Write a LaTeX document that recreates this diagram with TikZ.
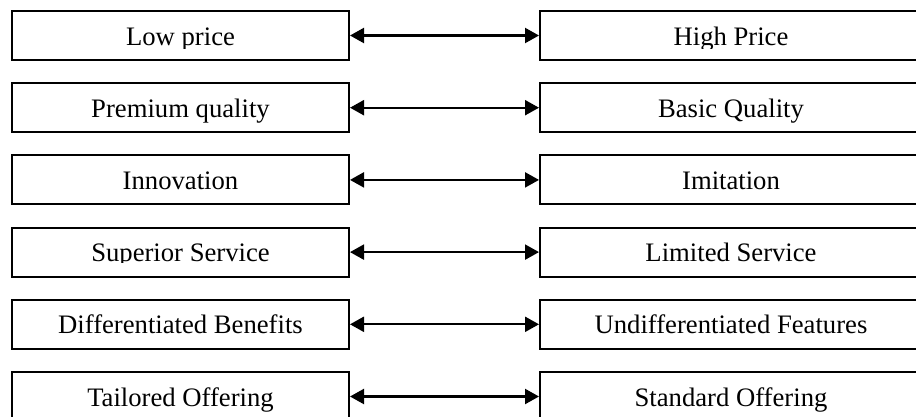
\documentclass[tikz,border=0pt]{standalone}
\usepackage{fontspec}
\setmainfont{Liberation Serif}
\usetikzlibrary{arrows.meta}
\begin{document}
\begin{tikzpicture}[x=1pt,y=-1pt,
  box/.style={draw, line width=2pt, minimum height=49pt, inner sep=0pt},
  leftbox/.style={box, minimum width=337pt},
  rightbox/.style={box, minimum width=400pt},
  caption/.style={font=\fontsize{26.67}{30}\selectfont, inner sep=0pt, anchor=base},
  link/.style={line width=2.2pt,
    {Triangle[length=14pt,width=15pt]}-{Triangle[length=14pt,width=15pt]}}]
\useasboundingbox (0,0) rectangle (916,416);
% each row: index / left text / right text / how far below the baseline the text shows
\foreach \i/\lt/\rt/\cl in {
  0/Low price/High Price/3,
  1/Premium quality/Basic Quality/5,
  2/Innovation/Imitation/8,
  3/Superior Service/Limited Service/1,
  4/Differentiated Benefits/Undifferentiated Features/8,
  5/Tailored Offering/Standard Offering/9}{
  \pgfmathsetmacro\top{11+72.2*\i}
  \pgfmathsetmacro\mid{\top+24.5}
  \pgfmathsetmacro\base{\top+34}
  \node[leftbox]  (L\i) at (180.5,\mid) {};
  \node[rightbox] (R\i) at (740,\mid) {};
  \begin{scope}
    \clip (0,\top) rectangle (916,\base+\cl);
    \node[caption] (lt\i) at (180.5,\base) {\lt};
    \node[caption] (rt\i) at (731,\base) {\rt};
  \end{scope}
  \draw[link] (L\i.east) -- (R\i.west);
}
\end{tikzpicture}
\end{document}
